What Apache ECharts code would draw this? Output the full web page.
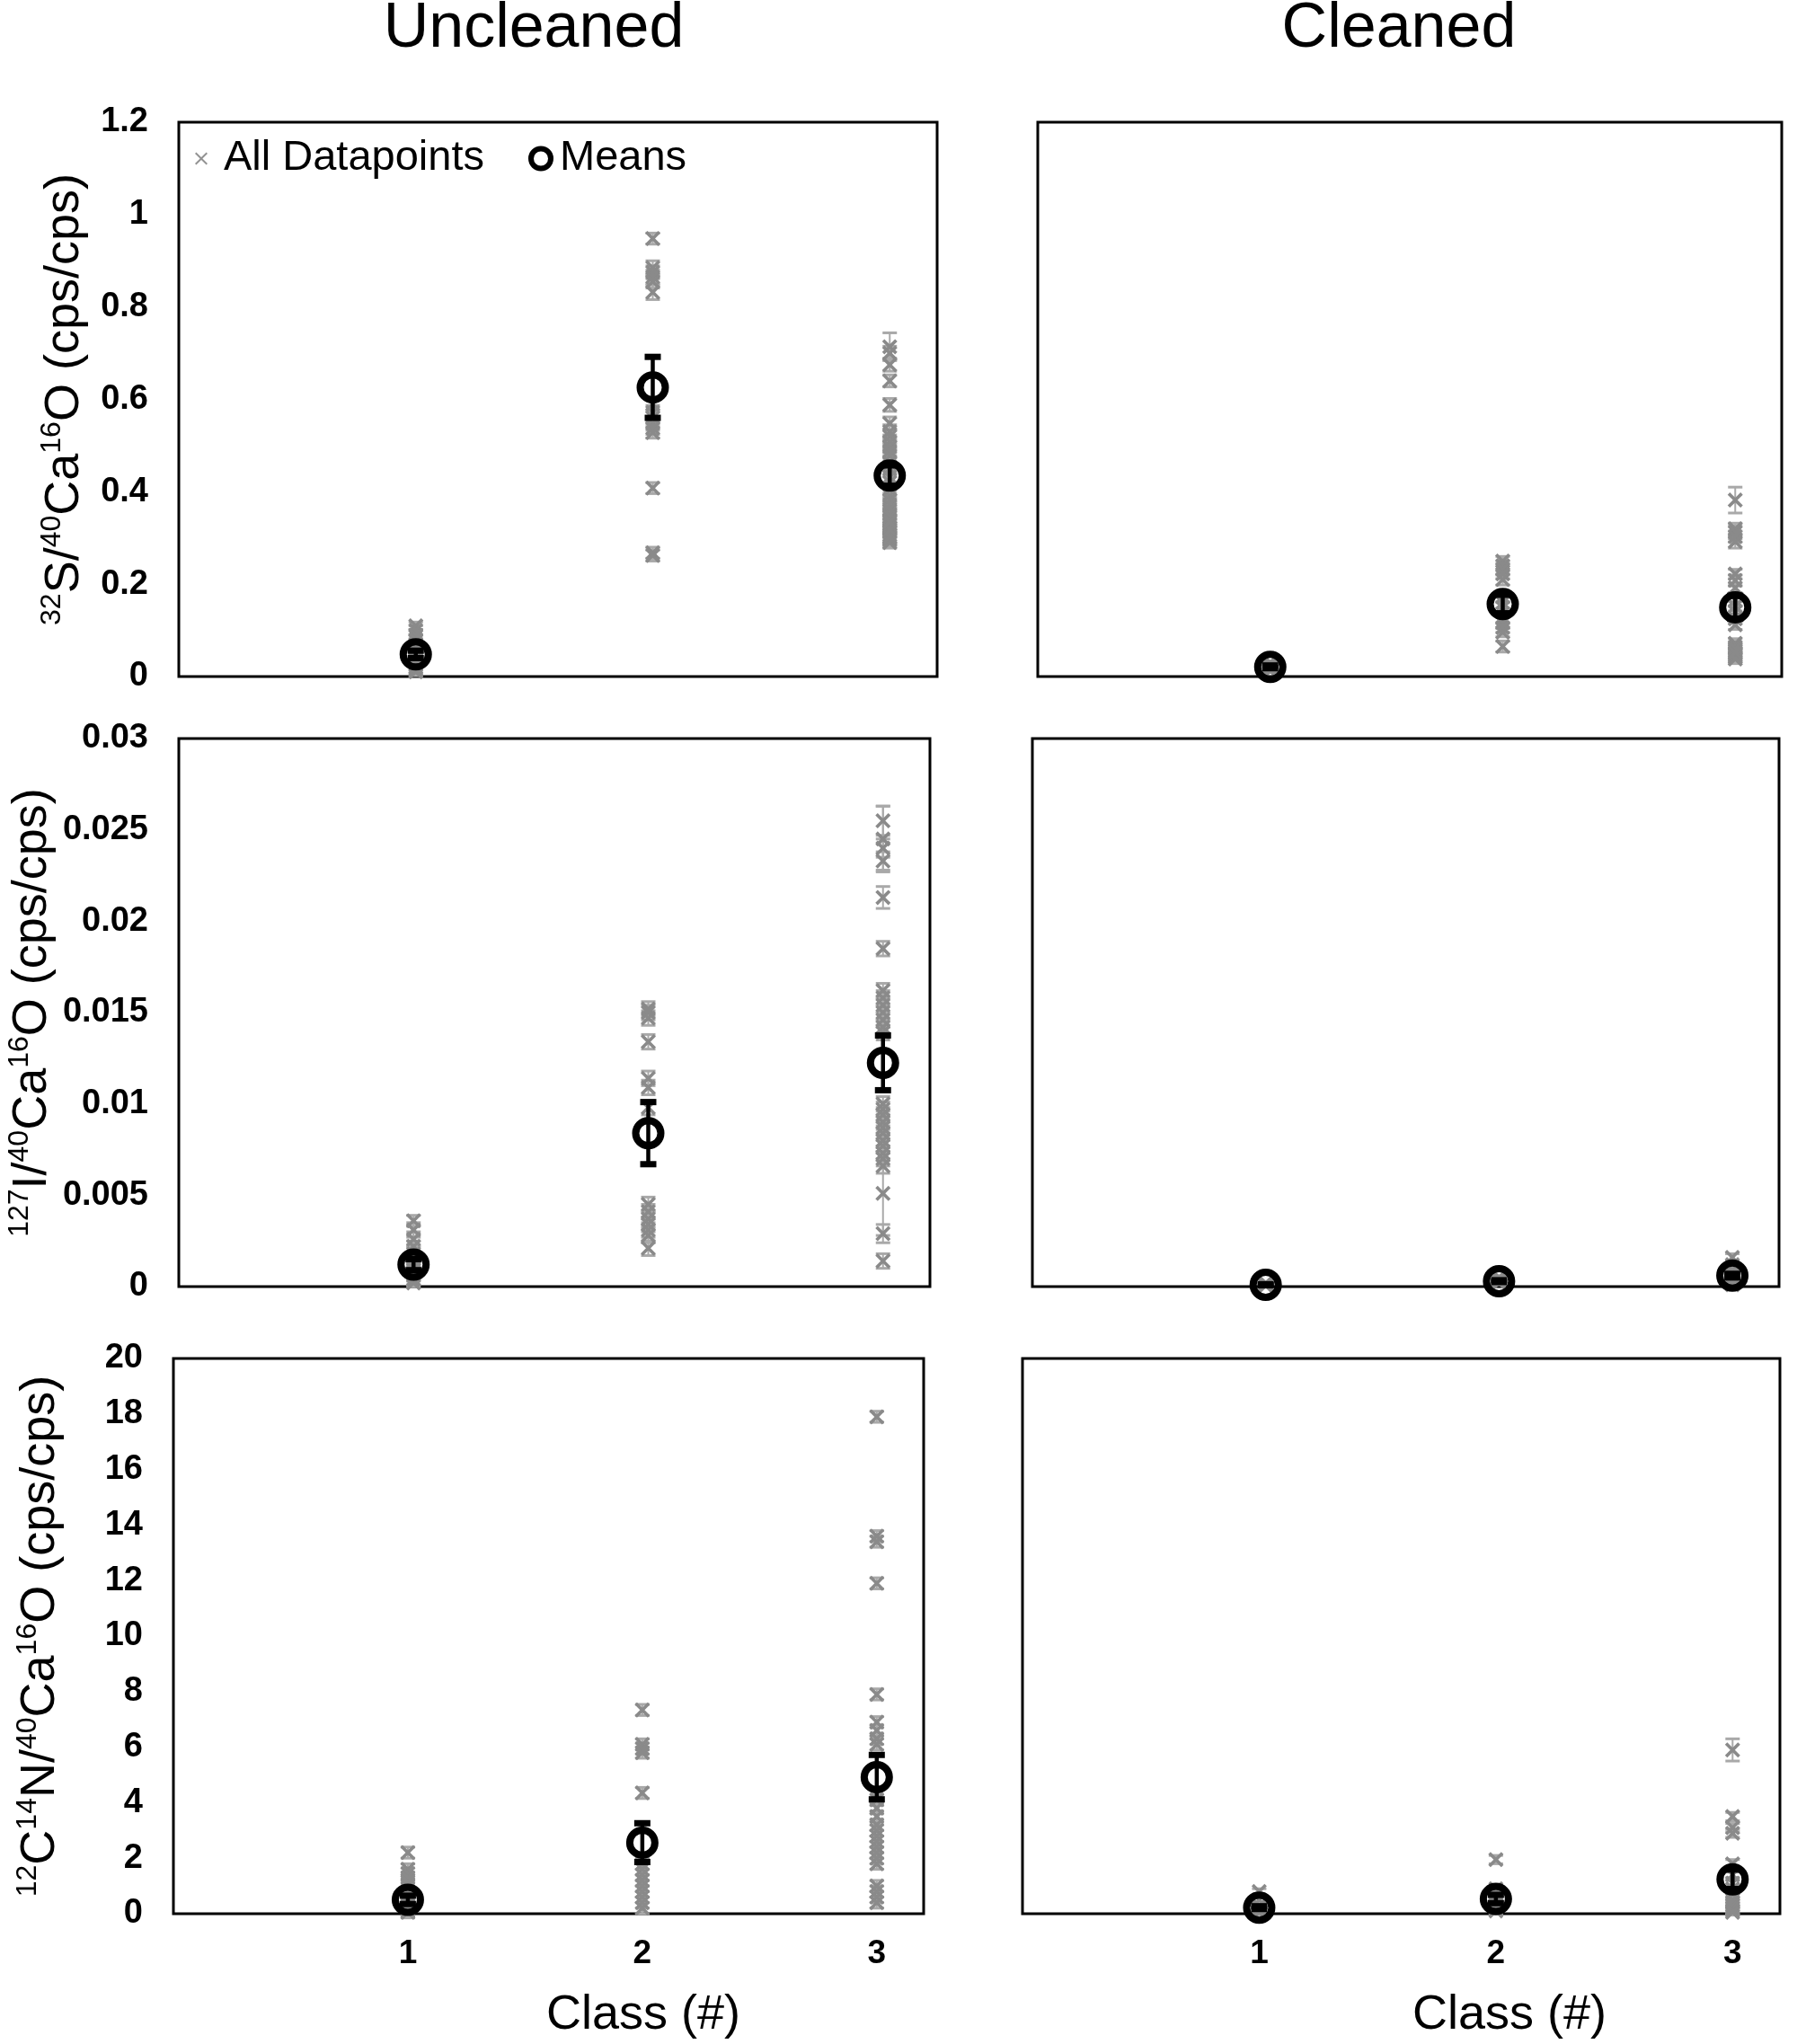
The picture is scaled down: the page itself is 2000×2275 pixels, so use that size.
<!DOCTYPE html>
<html>
<head>
<meta charset="utf-8">
<title>Uncleaned vs Cleaned ratios by class</title>
<script src="https://cdn.jsdelivr.net/npm/echarts@6.0.0/dist/echarts.min.js"></script>
<style>
  html, body { margin: 0; padding: 0; background: #fff; }
  #chart { width: 2000px; height: 2275px; }
</style>
</head>
<body>
<div id="chart"></div>
<script>
// x categories
const classes = [1, 2, 3];

// y axis scales (min, max, step) per row
const sAxis = [0, 1.2, 0.2];
const iAxis = [0, 0.03, 0.005];
const nAxis = [0, 20, 2];

// every datapoint as [value, error], one list per class
// 32S/40Ca16O uncleaned
const sUncleaned = [
  [[0.110,0.008],[0.100,0.010],[0.090,0.012],[0.080,0.010],[0.070,0.012],[0.060,0.010],[0.052,0.010],[0.047,0.012],
   [0.042,0.010],[0.036,0.012],[0.030,0.010],[0.025,0.010],[0.020,0.012],[0.015,0.010],[0.010,0.008]],
  [[0.948,0.012],[0.885,0.015],[0.875,0.014],[0.865,0.015],[0.855,0.014],[0.832,0.016],[0.590,0.014],[0.572,0.015],
   [0.560,0.014],[0.548,0.015],[0.538,0.014],[0.528,0.012],[0.408,0.012],[0.268,0.012],[0.262,0.012]],
  [[0.714,0.030],[0.700,0.015],[0.675,0.014],[0.640,0.013],[0.588,0.014],[0.548,0.014],[0.530,0.015],[0.520,0.014],
   [0.508,0.015],[0.498,0.014],[0.488,0.015],[0.478,0.014],[0.462,0.015],[0.450,0.014],[0.432,0.015],[0.420,0.014],
   [0.405,0.015],[0.392,0.014],[0.382,0.015],[0.372,0.014],[0.362,0.015],[0.352,0.014],[0.345,0.015],[0.338,0.014],
   [0.330,0.015],[0.322,0.014],[0.314,0.015],[0.306,0.014],[0.300,0.015],[0.296,0.014],[0.290,0.012],[0.302,0.013],
   [0.318,0.014],[0.335,0.013]]
];
// 32S/40Ca16O cleaned
const sCleaned = [
  [[0.030,0.004],[0.026,0.004],[0.022,0.005],[0.019,0.004],[0.016,0.004],[0.012,0.003]],
  [[0.250,0.010],[0.240,0.010],[0.232,0.012],[0.222,0.010],[0.210,0.012],[0.172,0.010],[0.160,0.012],[0.150,0.010],
   [0.126,0.010],[0.116,0.012],[0.106,0.010],[0.096,0.010],[0.065,0.012]],
  [[0.382,0.028],[0.320,0.012],[0.312,0.014],[0.303,0.012],[0.292,0.014],[0.222,0.010],[0.208,0.012],[0.192,0.010],
   [0.165,0.012],[0.152,0.010],[0.140,0.012],[0.125,0.010],[0.112,0.010],[0.072,0.010],[0.064,0.010],[0.056,0.012],
   [0.050,0.010],[0.046,0.012],[0.042,0.010],[0.038,0.010],[0.060,0.010],[0.052,0.010]]
];
// 127I/40Ca16O uncleaned
const iUncleaned = [
  [[0.0036,0.0003],[0.0031,0.0004],[0.0026,0.0004],[0.0022,0.0003],[0.0018,0.0004],[0.0015,0.0003],[0.0012,0.0004],
   [0.0010,0.0003],[0.0008,0.0004],[0.0006,0.0003],[0.0004,0.0003],[0.0002,0.0002]],
  [[0.0152,0.0004],[0.0150,0.0004],[0.0147,0.0004],[0.0134,0.0004],[0.0114,0.0004],[0.0109,0.0004],[0.0098,0.0004],
   [0.0045,0.0004],[0.0041,0.0004],[0.0037,0.0004],[0.0034,0.0004],[0.0031,0.0004],[0.0028,0.0004],[0.0021,0.0004]],
  [[0.0255,0.0008],[0.0245,0.0018],[0.0240,0.0005],[0.0233,0.0005],[0.0213,0.0006],[0.0185,0.0004],[0.0162,0.0004],
   [0.0158,0.0004],[0.0154,0.0004],[0.0150,0.0004],[0.0146,0.0004],[0.0142,0.0004],[0.0139,0.0004],[0.0100,0.0004],
   [0.0097,0.0004],[0.0094,0.0004],[0.0090,0.0004],[0.0087,0.0004],[0.0084,0.0004],[0.0080,0.0004],[0.0077,0.0004],
   [0.0073,0.0004],[0.0070,0.0004],[0.0066,0.0004],[0.0051,0.0023],[0.0029,0.0005],[0.0014,0.0004]]
];
// 127I/40Ca16O cleaned
const iCleaned = [
  [[0.0002,0.00005],[0.00015,0.00005],[0.0001,0.00005],[0.00005,0.00003]],
  [[0.0005,0.0001],[0.0004,0.0001],[0.0003,0.0001],[0.00025,0.0001],[0.0002,0.0001]],
  [[0.0016,0.0002],[0.0012,0.0002],[0.0009,0.0002],[0.0007,0.0001],[0.0005,0.0001],[0.0004,0.0001],[0.0003,0.0001],
   [0.0002,0.0001],[0.0001,0.0001]]
];
// 12C14N/40Ca16O uncleaned
const nUncleaned = [
  [[2.2,0.2],[1.6,0.2],[1.45,0.2],[1.3,0.2],[1.15,0.2],[1.0,0.2],[0.8,0.2],[0.6,0.2],[0.45,0.2],[0.3,0.2],[0.2,0.2],
   [0.1,0.2],[0.05,0.2]],
  [[7.34,0.2],[6.1,0.2],[5.95,0.2],[5.8,0.2],[4.35,0.2],[1.8,0.2],[1.6,0.2],[1.4,0.2],[1.2,0.2],[1.0,0.2],[0.8,0.2],
   [0.6,0.2],[0.4,0.2],[0.2,0.2]],
  [[17.9,0.2],[13.6,0.2],[13.4,0.2],[11.9,0.2],[7.9,0.2],[6.9,0.2],[6.6,0.2],[6.3,0.2],[6.1,0.2],[4.1,0.2],[3.8,0.2],
   [3.5,0.2],[3.2,0.2],[3.0,0.2],[2.8,0.2],[2.6,0.2],[2.4,0.2],[2.2,0.2],[2.0,0.2],[1.8,0.2],[1.0,0.2],[0.8,0.2],
   [0.6,0.2],[0.4,0.2]]
];
// 12C14N/40Ca16O cleaned
const nCleaned = [
  [[0.8,0.1],[0.5,0.1],[0.3,0.1],[0.2,0.1],[0.1,0.1],[0.05,0.1]],
  [[1.95,0.15],[0.9,0.1],[0.7,0.1],[0.5,0.1],[0.4,0.1],[0.3,0.1],[0.2,0.1],[0.1,0.1]],
  [[5.9,0.4],[3.5,0.15],[3.1,0.15],[2.9,0.15],[1.8,0.15],[1.4,0.1],[1.1,0.1],[0.9,0.1],[0.7,0.1],[0.5,0.1],
   [0.4,0.1],[0.3,0.1],[0.2,0.1],[0.1,0.1],[0.05,0.1]]
];

// class means as [mean, error]
const sUncleanedMeans = [[0.048, 0.008], [0.626, 0.066], [0.435, 0.022]];
const sCleanedMeans   = [[0.021, 0.003], [0.157, 0.020], [0.150, 0.025]];
const iUncleanedMeans = [[0.0012, 0.0003], [0.0084, 0.0017], [0.01225, 0.0015]];
const iCleanedMeans   = [[0.0001, 0.00003], [0.0003, 0.00005], [0.0006, 0.0001]];
const nUncleanedMeans = [[0.50, 0.15], [2.56, 0.70], [4.92, 0.80]];
const nCleanedMeans   = [[0.22, 0.05], [0.53, 0.15], [1.24, 0.35]];

const sName = '{sup|32}{n|S/}{sup|40}{n|Ca}{sup|16}{n|O (cps/cps)}';
const iName = '{sup|127}{n|I/}{sup|40}{n|Ca}{sup|16}{n|O (cps/cps)}';
const nName = '{sup|12}{n|C}{sup|14}{n|N/}{sup|40}{n|Ca}{sup|16}{n|O (cps/cps)}';

const FONT = "'Liberation Sans', Arial, sans-serif";
const crossPath = 'path://M3,0 L10,7 L17,0 L20,3 L13,10 L20,17 L17,20 L10,13 L3,20 L0,17 L7,10 L0,3 Z';
const thinCross = 'path://M2,0 L10,8 L18,0 L20,2 L12,10 L20,18 L18,20 L10,12 L2,20 L0,18 L8,10 L0,2 Z';

const panels = [
  { grid: { left: 199, top: 136, width: 844, height: 617 }, pts: sUncleaned, means: sUncleanedMeans, axis: sAxis, name: sName, nameGap: 97, showX: false },
  { grid: { left: 1155, top: 136, width: 828, height: 617 }, pts: sCleaned, means: sCleanedMeans, axis: sAxis, showX: false },
  { grid: { left: 199, top: 822, width: 836, height: 610 }, pts: iUncleaned, means: iUncleanedMeans, axis: iAxis, name: iName, nameGap: 133, showX: false },
  { grid: { left: 1149, top: 822, width: 831, height: 610 }, pts: iCleaned, means: iCleanedMeans, axis: iAxis, showX: false },
  { grid: { left: 193, top: 1512, width: 835, height: 618 }, pts: nUncleaned, means: nUncleanedMeans, axis: nAxis, name: nName, nameGap: 118, showX: true },
  { grid: { left: 1138, top: 1512, width: 843, height: 618 }, pts: nCleaned, means: nCleanedMeans, axis: nAxis, showX: true }
];

// vertical error bar with caps
function errorBar(capW, stemW, capLw, color) {
  return function (params, api) {
    const x = api.value(0), v = api.value(1), e = api.value(2);
    if (!e) return null;
    const a = api.coord([x, v + e]);
    const b = api.coord([x, v - e]);
    const st = { stroke: color, lineWidth: stemW };
    const ct = { stroke: color, lineWidth: capLw };
    return {
      type: 'group',
      children: [
        { type: 'line', shape: { x1: a[0], y1: a[1], x2: b[0], y2: b[1] }, style: st },
        { type: 'line', shape: { x1: a[0] - capW / 2, y1: a[1], x2: a[0] + capW / 2, y2: a[1] }, style: ct },
        { type: 'line', shape: { x1: b[0] - capW / 2, y1: b[1], x2: b[0] + capW / 2, y2: b[1] }, style: ct }
      ]
    };
  };
}

const grids = [], xAxes = [], yAxes = [], series = [];
panels.forEach(function (p, k) {
  grids.push(Object.assign({ show: true, borderColor: '#000', borderWidth: 3, backgroundColor: 'transparent' }, p.grid));
  xAxes.push({
    type: 'value', gridIndex: k, min: 0, max: 3.2, interval: 1,
    axisLine: { show: false }, axisTick: { show: false }, splitLine: { show: false },
    axisLabel: {
      show: p.showX, margin: 26, fontSize: 37, fontWeight: 'bold', color: '#000', fontFamily: FONT,
      formatter: function (v) { return classes.indexOf(v) >= 0 ? String(v) : ''; }
    }
  });
  yAxes.push({
    type: 'value', gridIndex: k, min: p.axis[0], max: p.axis[1], interval: p.axis[2],
    axisLine: { show: false }, axisTick: { show: false }, splitLine: { show: false },
    axisLabel: { show: !!p.name, margin: 34, fontSize: 38, fontWeight: 'bold', color: '#000', fontFamily: FONT },
    name: p.name || '', nameLocation: 'middle', nameRotate: 90, nameGap: p.nameGap || 0,
    nameTextStyle: {
      color: '#000', fontFamily: FONT,
      rich: {
        n: { fontSize: 54, lineHeight: 60, fontFamily: FONT, color: '#000' },
        sup: { fontSize: 32, lineHeight: 36, verticalAlign: 'top', fontFamily: FONT, color: '#000' }
      }
    }
  });

  const ptData = [], meanData = [];
  p.pts.forEach(function (list, c) {
    list.forEach(function (d) { ptData.push([classes[c], d[0], d[1]]); });
  });
  p.means.forEach(function (d, c) { meanData.push([classes[c], d[0], d[1]]); });

  series.push({
    type: 'custom', name: 'pt-err', xAxisIndex: k, yAxisIndex: k, z: 1, silent: true,
    renderItem: errorBar(16, 2, 3, '#a9a9a9'), encode: { x: 0, y: 1 }, data: ptData
  });
  series.push({
    type: 'scatter', name: 'All Datapoints', xAxisIndex: k, yAxisIndex: k, z: 2, silent: true,
    symbol: crossPath, symbolSize: 17, itemStyle: { color: '#8a8a8a', opacity: 1 }, data: ptData
  });
  series.push({
    type: 'custom', name: 'mean-err', xAxisIndex: k, yAxisIndex: k, z: 3, silent: true,
    renderItem: errorBar(18, 4.5, 7, '#000'), encode: { x: 0, y: 1 }, data: meanData
  });
  series.push({
    type: 'scatter', name: 'Means', xAxisIndex: k, yAxisIndex: k, z: 4, silent: true,
    symbol: 'circle', symbolSize: 28,
    itemStyle: { color: 'rgba(0,0,0,0)', borderColor: '#000', borderWidth: 8, opacity: 1 }, data: meanData
  });
});

const chart = echarts.init(document.getElementById('chart'));
chart.setOption({
  animation: false,
  backgroundColor: '#fff',
  textStyle: { fontFamily: FONT },
  grid: grids,
  xAxis: xAxes,
  yAxis: yAxes,
  legend: [
    {
      left: 212, top: 148, itemWidth: 40, itemHeight: 14, selectedMode: false,
      textStyle: { fontSize: 47, color: '#000', fontFamily: FONT },
      data: [{ name: 'All Datapoints', icon: thinCross, itemStyle: { color: '#929292', opacity: 1 } }]
    },
    {
      left: 583, top: 148, itemWidth: 32, itemHeight: 22, selectedMode: false,
      textStyle: { fontSize: 47, color: '#000', fontFamily: FONT },
      data: [{ name: 'Means', icon: 'circle', itemStyle: { color: 'rgba(0,0,0,0)', borderColor: '#000', borderWidth: 6, opacity: 1 } }]
    }
  ],
  graphic: [
    { type: 'text', x: 594, y: 33, style: { text: 'Uncleaned', font: '70px ' + FONT, fill: '#000', align: 'center', verticalAlign: 'middle', textAlign: 'center', textVerticalAlign: 'middle' } },
    { type: 'text', x: 1557, y: 33, style: { text: 'Cleaned', font: '70px ' + FONT, fill: '#000', align: 'center', verticalAlign: 'middle', textAlign: 'center', textVerticalAlign: 'middle' } },
    { type: 'text', x: 716, y: 2243, style: { text: 'Class (#)', font: '54px ' + FONT, fill: '#000', align: 'center', verticalAlign: 'middle', textAlign: 'center', textVerticalAlign: 'middle' } },
    { type: 'text', x: 1680, y: 2243, style: { text: 'Class (#)', font: '54px ' + FONT, fill: '#000', align: 'center', verticalAlign: 'middle', textAlign: 'center', textVerticalAlign: 'middle' } }
  ],
  series: series
});
window.addEventListener('resize', function () { chart.resize(); });
</script>
</body>
</html>
